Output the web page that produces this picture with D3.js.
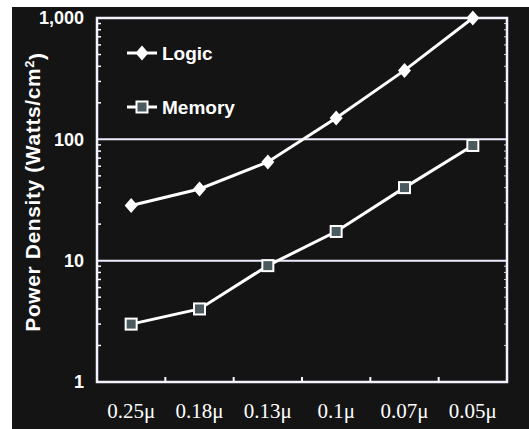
<!DOCTYPE html>
<html>
<head>
<meta charset="utf-8">
<script src="https://d3js.org/d3.v7.min.js"></script>
<style>
  html, body { margin: 0; padding: 0; background: #fff; }
  svg { display: block; }
</style>
</head>
<body>
<script>
  // chart data
  const nodes = ["0.25\u03bc", "0.18\u03bc", "0.13\u03bc", "0.1\u03bc", "0.07\u03bc", "0.05\u03bc"];
  const logic = [28.5, 39, 65, 150, 370, 1000];
  const memory = [3.0, 4.0, 9.1, 17.4, 40, 89];
  const yTicks = [1, 10, 100, 1000];
  const gridValues = [10, 100];

  const width = 529, height = 429;
  const plotLeft = 97, plotRight = 507, plotTop = 18, plotBottom = 382;

  const svg = d3.select("body").append("svg")
      .attr("width", width)
      .attr("height", height);

  svg.append("rect")
      .attr("x", 12).attr("y", 7)
      .attr("width", width - 12).attr("height", height - 7)
      .attr("fill", "#141414");

  const x = d3.scaleBand().domain(nodes).range([plotLeft, plotRight]);
  const y = d3.scaleLog().domain([1, 1000]).range([plotBottom, plotTop]);

  // gridlines at 10 and 100
  svg.append("g").selectAll("line")
      .data(gridValues)
      .enter().append("line")
      .attr("x1", plotLeft).attr("x2", plotRight)
      .attr("y1", d => y(d)).attr("y2", d => y(d))
      .attr("stroke", "#eeeaff")
      .attr("stroke-width", 2);

  // minor ticks on left and right axes
  const minor = [];
  for (let dec = 1; dec < 1000; dec *= 10) {
    for (let k = 2; k <= 9; k++) minor.push(dec * k);
  }
  svg.append("g").selectAll("line")
      .data(minor)
      .enter().append("line")
      .attr("x1", plotLeft).attr("x2", plotLeft + 4)
      .attr("y1", d => y(d)).attr("y2", d => y(d))
      .attr("stroke", "#fff").attr("stroke-width", 1.5);
  svg.append("g").selectAll("line")
      .data(minor)
      .enter().append("line")
      .attr("x1", plotRight).attr("x2", plotRight - 3)
      .attr("y1", d => y(d)).attr("y2", d => y(d))
      .attr("stroke", "#ccc").attr("stroke-width", 1);

  // x ticks between bands, pointing up
  svg.append("g").selectAll("line")
      .data(nodes.slice(1))
      .enter().append("line")
      .attr("x1", d => x(d)).attr("x2", d => x(d))
      .attr("y1", plotBottom).attr("y2", plotBottom - 5)
      .attr("stroke", "#fff").attr("stroke-width", 2);

  // frame
  svg.append("rect")
      .attr("x", plotLeft).attr("y", plotTop)
      .attr("width", plotRight - plotLeft).attr("height", plotBottom - plotTop)
      .attr("fill", "none")
      .attr("stroke", "#f4f2ff")
      .attr("stroke-width", 2.5);

  // y tick labels
  svg.append("g").selectAll("text")
      .data(yTicks)
      .enter().append("text")
      .attr("x", 84)
      .attr("y", d => y(d))
      .attr("dy", "0.36em")
      .attr("text-anchor", "end")
      .attr("fill", "#fff")
      .style("font", "bold 18px 'Liberation Sans', Arial, sans-serif")
      .text(d => d3.format(",")(d));

  // x tick labels
  svg.append("g").selectAll("text")
      .data(nodes)
      .enter().append("text")
      .attr("x", d => x(d) + x.bandwidth() / 2)
      .attr("y", 418)
      .attr("text-anchor", "middle")
      .attr("fill", "#fff")
      .style("font", "21px 'Liberation Serif', 'Times New Roman', serif")
      .text(d => d);

  // y axis title
  const title = svg.append("text")
      .attr("transform", "translate(40,192) rotate(-90)")
      .attr("text-anchor", "middle")
      .attr("fill", "#fff")
      .style("font", "bold 21px 'Liberation Sans', Arial, sans-serif")
      .style("letter-spacing", "0.6px")
      .text("Power Density (Watts/cm");
  title.append("tspan").attr("dy", "-0.5em").style("font-size", "13px").text("2");
  title.append("tspan").attr("dy", "0.5em").text(")");

  const line = d3.line()
      .x((d, i) => x(nodes[i]) + x.bandwidth() / 2)
      .y(d => y(d));

  // series lines
  [logic, memory].forEach(s => {
    svg.append("path")
        .datum(s)
        .attr("d", line)
        .attr("fill", "none")
        .attr("stroke", "#fff")
        .attr("stroke-width", 3);
  });

  const diamond = (g, cx, cy) => g.append("path")
      .attr("d", `M${cx},${cy - 7.5}L${cx + 6.5},${cy}L${cx},${cy + 7.5}L${cx - 6.5},${cy}Z`)
      .attr("fill", "#fff");
  const square = (g, cx, cy) => g.append("rect")
      .attr("x", cx - 5.5).attr("y", cy - 5.5)
      .attr("width", 11).attr("height", 11)
      .attr("fill", "#4a5a5e")
      .attr("stroke", "#fff").attr("stroke-width", 2);

  const marks = svg.append("g");
  logic.forEach((v, i) => diamond(marks, x(nodes[i]) + x.bandwidth() / 2, y(v)));
  memory.forEach((v, i) => square(marks, x(nodes[i]) + x.bandwidth() / 2, y(v)));

  // legend
  const legend = svg.append("g");
  const items = [["Logic", 53, diamond], ["Memory", 107, square]];
  items.forEach(([name, ly, mk]) => {
    legend.append("line")
        .attr("x1", 127).attr("x2", 157)
        .attr("y1", ly).attr("y2", ly)
        .attr("stroke", "#fff").attr("stroke-width", 3);
    mk(legend, 142, ly);
    legend.append("text")
        .attr("x", 162).attr("y", ly)
        .attr("dy", "0.36em")
        .attr("fill", "#fff")
        .style("font", "bold 19px 'Liberation Sans', Arial, sans-serif")
        .text(name);
  });
</script>
</body>
</html>
